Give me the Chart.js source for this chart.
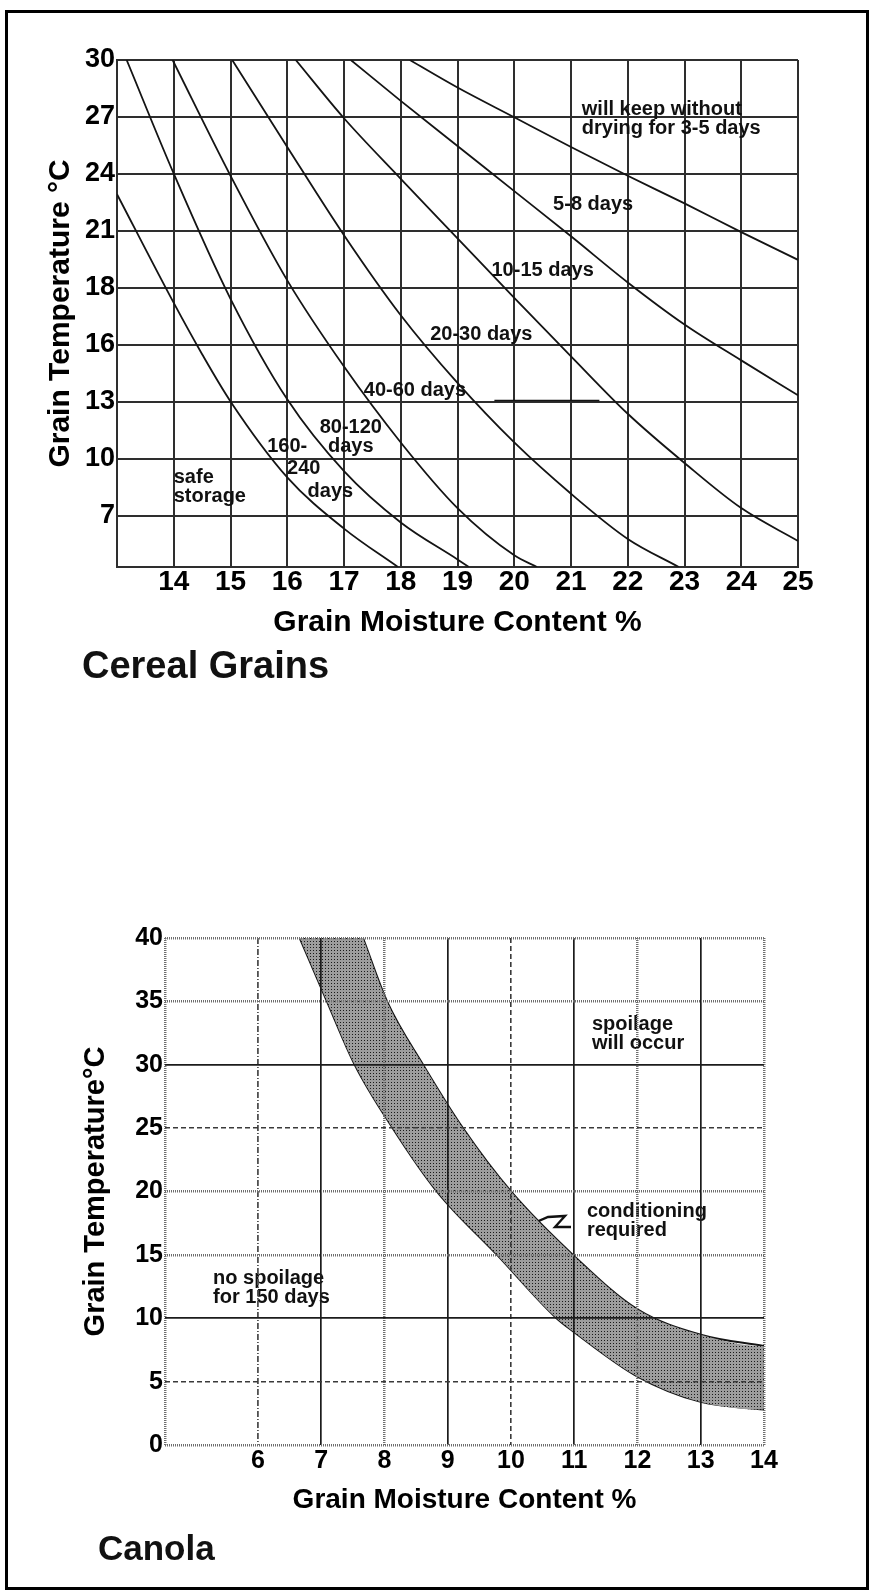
<!DOCTYPE html>
<html>
<head>
<meta charset="utf-8">
<title>Grain storage time charts</title>
<script src="https://cdn.jsdelivr.net/npm/chart.js@4.4.1/dist/chart.umd.min.js"></script>
<style>
  html, body { margin: 0; padding: 0; background: #fff; }
  body { width: 870px; height: 1591px; position: relative; overflow: hidden; font-family: 'Liberation Sans', Arial, sans-serif; }
  .frame { position: absolute; left: 5px; top: 10px; width: 864px; height: 1580px; border: 3px solid #000; box-sizing: border-box; }
  canvas { position: absolute; left: 0; }
  #cerealChart { top: 0; }
  #canolaChart { top: 880px; }
  .caption { position: absolute; font-weight: bold; color: #111; white-space: nowrap; }
</style>
</head>
<body>
<div class="frame"></div>
<canvas id="cerealChart" width="870" height="700"></canvas>
<div class="caption" style="left:82px; top:646px; font-size:38px; line-height:38px;">Cereal Grains</div>
<canvas id="canolaChart" width="870" height="660"></canvas>
<div class="caption" style="left:98px; top:1530px; font-size:35px; line-height:35px;">Canola</div>

<script>
// ---- Cereal grains: safe storage boundaries (moisture %, temperature °C) ----
// y positions are the real °C values of the chart's 5 °F grid (labels are rounded)
const cerealMoistureTicks = [13, 14, 15, 16, 17, 18, 19, 20, 21, 22, 23, 24, 25];
const cerealTempTicks = [4.73, 7.22, 10.0, 12.78, 15.56, 18.33, 21.11, 23.89, 26.67, 29.44];
const cerealTempLabels = ['', '7', '10', '13', '16', '18', '21', '24', '27', '30'];

// safe storage | 160-240 days
const limit160Moisture = [13.0, 14.0, 14.5, 15.0, 16.0, 17.0, 17.95];
const limit160Temp     = [22.9, 17.6, 15.1, 12.8, 9.1, 6.6, 4.73];
// 160-240 days | 80-120 days
const limit80Moisture = [13.17, 14.0, 15.0, 16.0, 17.0, 18.0, 19.0, 19.2];
const limit80Temp     = [29.44, 23.9, 17.8, 12.9, 9.4, 6.9, 5.1, 4.73];
// 80-120 days | 40-60 days
const limit40Moisture = [13.98, 15.0, 16.0, 17.0, 18.0, 19.0, 20.0, 20.4];
const limit40Temp     = [29.44, 23.8, 18.7, 14.5, 10.8, 7.6, 5.3, 4.73];
// 40-60 days | 20-30 days
const limit20Moisture = [15.03, 16.0, 17.0, 18.0, 19.0, 20.0, 21.0, 22.0, 22.9];
const limit20Temp     = [29.44, 25.2, 20.9, 17.0, 13.7, 10.8, 8.3, 6.1, 4.73];
// 20-30 days | 10-15 days
const limit10Moisture = [16.15, 17.0, 18.0, 19.0, 20.0, 21.0, 22.0, 23.0, 24.0, 25.0];
const limit10Temp     = [29.44, 26.6, 23.65, 20.75, 17.85, 15.0, 12.2, 9.8, 7.6, 6.0];
// 10-15 days | 5-8 days
const limit5Moisture = [17.12, 18.0, 19.0, 20.0, 21.0, 22.0, 23.0, 24.0, 25.0];
const limit5Temp     = [29.44, 27.45, 25.25, 23.05, 20.85, 18.6, 16.55, 14.8, 13.1];
// 5-8 days | 3-5 days
const limit3Moisture = [18.16, 19.0, 20.0, 21.0, 22.0, 23.0, 24.0, 25.0];
const limit3Temp     = [29.44, 28.1, 26.65, 25.2, 23.8, 22.45, 21.05, 19.7];
// short rule after the "40-60 days" label
const leaderMoisture = [19.65, 21.5];
const leaderTemp     = [12.85, 12.85];

const cerealNotes = [
  { text: ['will keep without', 'drying for 3-5 days'], x: 21.19, y: 27.05, align: 'left' },
  { text: ['5-8 days'], x: 21.39, y: 22.4, align: 'center' },
  { text: ['10-15 days'], x: 20.5, y: 19.2, align: 'center' },
  { text: ['20-30 days'], x: 19.42, y: 16.06, align: 'center' },
  { text: ['40-60 days'], x: 18.25, y: 13.33, align: 'center' },
  { text: ['80-120', 'days'], x: 17.12, y: 11.53, align: 'center' },
  { text: ['160-'], x: 16.0, y: 10.6, align: 'center' },
  { text: ['240'], x: 16.29, y: 9.55, align: 'center' },
  { text: ['days'], x: 16.76, y: 8.43, align: 'center' },
  { text: ['safe', 'storage'], x: 14.0, y: 9.07, align: 'left' }
];

// ---- Canola: conditioning band ----
const canolaMoistureTicks = [4.53, 6, 7, 8, 9, 10, 11, 12, 13, 14];
const canolaTempTicks = [0, 5, 10, 15, 20, 25, 30, 35, 40];
// lower (left) edge of the band, top to bottom
const bandLowMoisture = [6.66, 7.09, 7.53, 8.13, 8.83, 9.78, 10.72, 11.0, 12.0, 13.0, 14.0];
const bandLowTemp     = [40, 35, 30, 25, 20, 15, 10, 8.9, 5.4, 3.4, 2.8];
// upper (right) edge of the band, bottom to top
const bandHighMoisture = [14.0, 13.0, 12.0, 11.0, 10.0, 9.24, 8.61, 8.04, 7.66];
const bandHighTemp     = [7.8, 8.7, 10.7, 14.9, 20, 25, 30, 35, 40];
// zig-zag pointer from the "conditioning required" note
const pointerMoisture = [10.22, 10.585, 10.854, 10.696, 10.949];
const pointerTemp     = [17.2, 17.99, 18.07, 17.2, 17.2];

const canolaNotes = [
  { text: ['spoilage', 'will occur'], x: 11.28, y: 33.2, align: 'left' },
  { text: ['conditioning', 'required'], x: 11.2, y: 18.4, align: 'left' },
  { text: ['no spoilage', 'for 150 days'], x: 5.29, y: 13.1, align: 'left' }
];

const FONT = "'Liberation Sans', Arial, sans-serif";
Chart.defaults.font.family = FONT;
Chart.defaults.color = '#000';

const toPoints = (xs, ys) => xs.map((x, i) => ({ x: x, y: ys[i] }));

const notesPlugin = {
  id: 'notes',
  afterDatasetsDraw(chart, args, opts) {
    const { ctx } = chart;
    const xs = chart.scales.x, ys = chart.scales.y;
    ctx.save();
    ctx.font = 'bold ' + opts.size + 'px ' + FONT;
    ctx.fillStyle = '#111';
    ctx.textBaseline = 'middle';
    opts.items.forEach(n => {
      ctx.textAlign = n.align;
      const px = xs.getPixelForValue(n.x);
      const py = ys.getPixelForValue(n.y);
      n.text.forEach((t, i) => ctx.fillText(t, px, py + i * opts.lineGap));
    });
    ctx.restore();
  }
};

function curve(xs, ys, width) {
  return {
    data: toPoints(xs, ys),
    showLine: true,
    borderColor: '#141414',
    borderWidth: width || 1.8,
    pointRadius: 0,
    cubicInterpolationMode: 'monotone',
    fill: false
  };
}

new Chart(document.getElementById('cerealChart'), {
  type: 'scatter',
  data: {
    datasets: [
      curve(limit160Moisture, limit160Temp),
      curve(limit80Moisture, limit80Temp),
      curve(limit40Moisture, limit40Temp),
      curve(limit20Moisture, limit20Temp),
      curve(limit10Moisture, limit10Temp),
      curve(limit5Moisture, limit5Temp),
      curve(limit3Moisture, limit3Temp),
      curve(leaderMoisture, leaderTemp, 1.5)
    ]
  },
  options: {
    responsive: false,
    animation: false,
    devicePixelRatio: 1,
    layout: { padding: { left: 0, top: 60, right: 72, bottom: 58 } },
    plugins: {
      legend: { display: false },
      tooltip: { enabled: false },
      notes: { items: cerealNotes, size: 20, lineGap: 19 }
    },
    scales: {
      x: {
        type: 'linear', min: 13, max: 25,
        afterBuildTicks: s => { s.ticks = cerealMoistureTicks.map(v => ({ value: v })); },
        afterFit: s => { s.height = 75; },
        ticks: {
          autoSkip: false, maxRotation: 0, padding: 0, color: '#000',
          font: { size: 28, weight: 'bold', lineHeight: 1.1 },
          callback: v => (v === 13 ? '' : String(v))
        },
        grid: { color: '#2e2e2e', lineWidth: 2, drawTicks: false },
        border: { color: '#2e2e2e', width: 2 },
        title: {
          display: true, text: 'Grain Moisture Content %', color: '#000',
          font: { size: 30, weight: 'bold', lineHeight: 1.2 }, padding: { top: 0, bottom: 1 }
        }
      },
      y: {
        type: 'linear', min: 4.73, max: 29.44,
        afterBuildTicks: s => { s.ticks = cerealTempTicks.map(v => ({ value: v })); },
        afterFit: s => { s.width = 117; },
        ticks: {
          autoSkip: false, padding: 2, color: '#000',
          font: { size: 27, weight: 'bold', lineHeight: 1.1 },
          callback: (v, i) => cerealTempLabels[i]
        },
        grid: { color: '#2e2e2e', lineWidth: 2, drawTicks: false },
        border: { color: '#2e2e2e', width: 2 },
        title: {
          display: true, text: 'Grain Temperature °C', color: '#000',
          font: { size: 30, weight: 'bold', lineHeight: 1.2 }, padding: { top: 43, bottom: 0 }
        }
      }
    }
  },
  plugins: [notesPlugin]
});

// ---- canola chart ----
function bandPattern() {
  const c = document.createElement('canvas');
  c.width = 3; c.height = 3;
  const g = c.getContext('2d');
  g.fillStyle = '#9d9d9d';
  g.fillRect(0, 0, 3, 3);
  g.fillStyle = '#1a1a1a';
  g.fillRect(1, 1, 1, 1);
  return g.createPattern(c, 'repeat');
}

const lineKinds = {
  dot:     { color: '#6e6e6e', width: 2.5, dash: [1, 1] },
  dash:    { color: '#3a3a3a', width: 1.6, dash: [5, 3] },
  dashdot: { color: '#505050', width: 1.8, dash: [6, 2, 1, 2] },
  solid:   { color: '#1c1c1c', width: 1.7, dash: [] }
};
const canolaXKind = { 6: 'dashdot', 7: 'solid', 8: 'dot', 9: 'solid', 10: 'dash', 11: 'solid', 12: 'dot', 13: 'solid', 14: 'dot' };
const canolaYKind = { 0: 'dot', 5: 'dash', 10: 'solid', 15: 'dot', 20: 'dot', 25: 'dash', 30: 'solid', 35: 'dot', 40: 'dot' };
const kindOf = (table, ctx) => lineKinds[(ctx.tick && table[ctx.tick.value]) || 'dot'];

// closed outline: down the lower edge, back up the upper edge
const bandPoints = toPoints(bandLowMoisture, bandLowTemp).concat(toPoints(bandHighMoisture, bandHighTemp));

function edge(xs, ys) {
  return {
    data: toPoints(xs, ys),
    showLine: true,
    pointRadius: 0,
    borderWidth: 2,
    borderColor: '#151515',
    cubicInterpolationMode: 'monotone',
    fill: false
  };
}

new Chart(document.getElementById('canolaChart'), {
  type: 'scatter',
  data: {
    datasets: [
      {
        data: bandPoints,
        showLine: true,
        pointRadius: 0,
        borderWidth: 0,
        cubicInterpolationMode: 'monotone',
        backgroundColor: bandPattern(),
        fill: 'shape'
      },
      edge(bandLowMoisture, bandLowTemp),
      edge(bandHighMoisture, bandHighTemp),
      {
        data: toPoints(pointerMoisture, pointerTemp),
        showLine: true,
        pointRadius: 0,
        tension: 0,
        borderWidth: 2.4,
        borderColor: '#111',
        fill: false
      }
    ]
  },
  options: {
    responsive: false,
    animation: false,
    devicePixelRatio: 1,
    layout: { padding: { left: 0, top: 58, right: 106, bottom: 23 } },
    plugins: {
      legend: { display: false },
      tooltip: { enabled: false },
      notes: { items: canolaNotes, size: 20, lineGap: 19 }
    },
    scales: {
      x: {
        type: 'linear', min: 4.53, max: 14,
        afterBuildTicks: s => { s.ticks = canolaMoistureTicks.map(v => ({ value: v })); },
        afterFit: s => { s.height = 72; },
        ticks: {
          autoSkip: false, maxRotation: 0, padding: 1, color: '#000',
          font: { size: 25, weight: 'bold', lineHeight: 1.2 },
          callback: v => (v === 4.53 ? '' : String(v))
        },
        grid: {
          z: 1, drawTicks: false,
          color: c => kindOf(canolaXKind, c).color,
          lineWidth: c => kindOf(canolaXKind, c).width
        },
        border: { display: false, dash: c => kindOf(canolaXKind, c).dash },
        title: {
          display: true, text: 'Grain Moisture Content %', color: '#000',
          font: { size: 28, weight: 'bold', lineHeight: 1.2 }, padding: { top: 0, bottom: 0 }
        }
      },
      y: {
        type: 'linear', min: 0, max: 40,
        afterBuildTicks: s => { s.ticks = canolaTempTicks.map(v => ({ value: v })); },
        afterFit: s => { s.width = 165; },
        ticks: {
          autoSkip: false, padding: 2, color: '#000',
          font: { size: 25, weight: 'bold', lineHeight: 1.1 },
          callback: v => String(v)
        },
        grid: {
          z: 1, drawTicks: false,
          color: c => kindOf(canolaYKind, c).color,
          lineWidth: c => kindOf(canolaYKind, c).width
        },
        border: { display: false, dash: c => kindOf(canolaYKind, c).dash },
        title: {
          display: true, text: 'Grain Temperature°C', color: '#000',
          font: { size: 29, weight: 'bold', lineHeight: 1.2 }, padding: { top: 79, bottom: 0 }
        }
      }
    }
  },
  plugins: [notesPlugin]
});
</script>
</body>
</html>
